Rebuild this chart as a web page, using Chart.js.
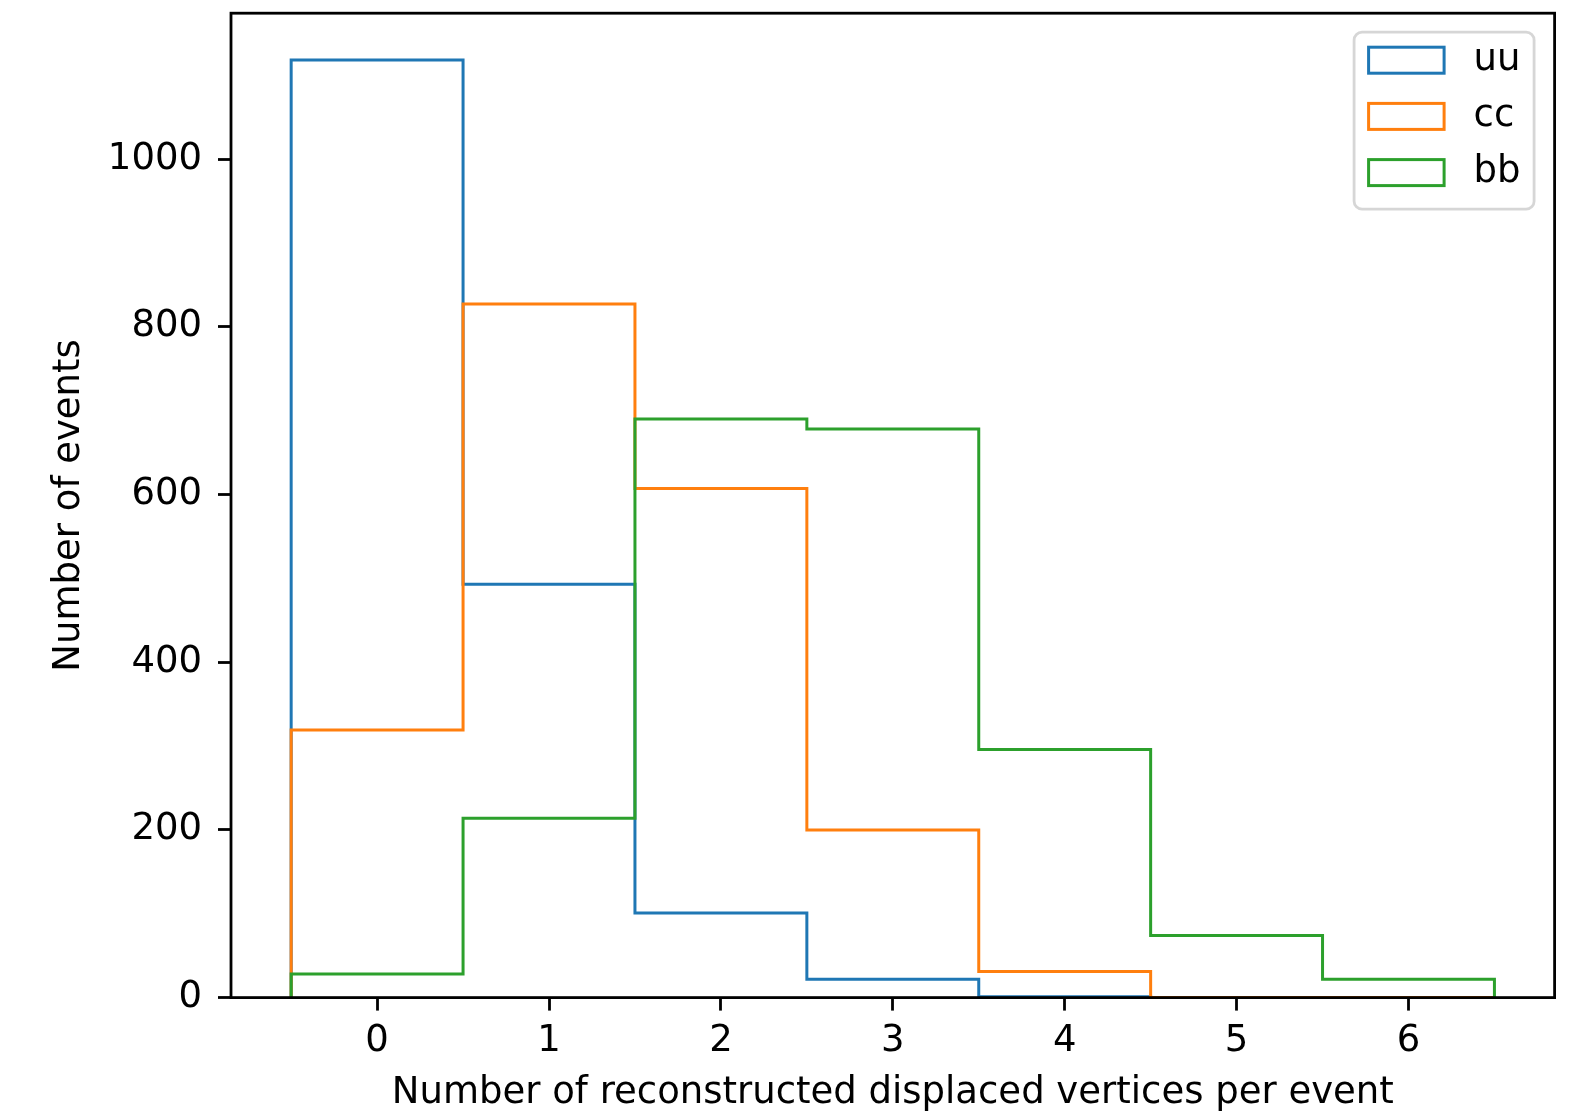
<!DOCTYPE html>
<html>
<head>
<meta charset="utf-8">
<script src="https://cdn.jsdelivr.net/npm/chart.js@4.4.1/dist/chart.umd.min.js"></script>
<style>
  html, body { margin: 0; padding: 0; background: #fff; }
  #wrap { width: 1588px; height: 1116px; }
</style>
</head>
<body>
<div id="wrap"><canvas id="hist"></canvas></div>
<script>
// bin centres (number of displaced vertices) and counts per sample
const binCenters = [0, 1, 2, 3, 4, 5, 6];
const uuCounts = [1118, 493, 101, 22, 1, 0, 0];
const ccCounts = [319, 827, 607, 200, 31, 0, 0];
const bbCounts = [28, 214, 690, 678, 296, 74, 22];
const sampleNames = ['uu', 'cc', 'bb'];
const sampleColors = ['#1f77b4', '#ff7f0e', '#2ca02c'];
const xTicks = [0, 1, 2, 3, 4, 5, 6];
const yTicks = [0, 200, 400, 600, 800, 1000];

const FONT = 'DejaVu Sans';
const FS = 37;
const LW = 2.8;

// outline of a step histogram, like matplotlib histtype='step'
function stepOutline(counts) {
    const pts = [];
    const lo = binCenters[0] - 0.5;
    pts.push({ x: lo, y: 0 });
    counts.forEach((c, i) => {
        pts.push({ x: binCenters[i] - 0.5, y: c });
        pts.push({ x: binCenters[i] + 0.5, y: c });
    });
    pts.push({ x: binCenters[binCenters.length - 1] + 0.5, y: 0 });
    return pts;
}

const allCounts = [uuCounts, ccCounts, bbCounts];
const yMax = Math.max(...allCounts.flat()) * 1.05;
const span = binCenters[binCenters.length - 1] - binCenters[0] + 1;
const xMin = binCenters[0] - 0.5 - span * 0.05;
const xMax = binCenters[binCenters.length - 1] + 0.5 + span * 0.05;

const framePlugin = {
    id: 'frame',
    afterDatasetsDraw(chart) {
        const { ctx, chartArea: a } = chart;
        ctx.save();
        ctx.strokeStyle = '#000';
        ctx.lineWidth = LW;
        ctx.strokeRect(a.left, a.top, a.right - a.left, a.bottom - a.top);
        ctx.restore();
    }
};

const legendPlugin = {
    id: 'mplLegend',
    afterDraw(chart) {
        const { ctx, chartArea: a } = chart;
        const w = 180, h = 177;
        const x0 = a.right - 20.5 - w;
        const y0 = a.top + 19;
        ctx.save();
        ctx.beginPath();
        ctx.roundRect(x0, y0, w, h, 8);
        ctx.fillStyle = 'rgba(255,255,255,0.8)';
        ctx.fill();
        ctx.strokeStyle = 'rgba(204,204,204,0.8)';
        ctx.lineWidth = LW;
        ctx.stroke();
        chart.data.datasets.forEach((ds, i) => {
            const cy = y0 + 28 + i * 56.2;
            ctx.strokeStyle = ds.borderColor;
            ctx.lineWidth = 3;
            ctx.strokeRect(x0 + 14.5, cy - 13, 75.5, 26);
            ctx.fillStyle = '#000';
            ctx.font = FS + 'px "' + FONT + '"';
            ctx.textBaseline = 'middle';
            ctx.textAlign = 'left';
            ctx.fillText(ds.label, x0 + 119.5, cy);
        });
        ctx.restore();
    }
};

new Chart(document.getElementById('hist'), {
    type: 'line',
    data: {
        datasets: allCounts.map((counts, i) => ({
            label: sampleNames[i],
            data: stepOutline(counts),
            borderColor: sampleColors[i],
            backgroundColor: 'transparent',
            borderWidth: 3,
            borderJoinStyle: 'miter',
            pointRadius: 0,
            tension: 0,
            fill: false,
            order: allCounts.length - i
        }))
    },
    options: {
        responsive: true,
        maintainAspectRatio: false,
        animation: false,
        layout: { padding: { top: 13.2, right: 33.4, left: 0, bottom: 0 } },
        plugins: {
            legend: { display: false },
            tooltip: { enabled: false }
        },
        scales: {
            x: {
                type: 'linear',
                min: xMin,
                max: xMax,
                afterBuildTicks: (s) => { s.ticks = xTicks.map(v => ({ value: v })); },
                afterFit: (s) => { s.height = 118.4; s.paddingLeft = 0; s.paddingRight = 0; },
                border: { display: false },
                grid: {
                    drawOnChartArea: false,
                    drawTicks: true,
                    tickLength: 13,
                    tickWidth: LW,
                    tickColor: '#000'
                },
                ticks: {
                    color: '#000',
                    padding: 9,
                    maxRotation: 0,
                    callback: (v) => String(v),
                    font: { family: FONT, size: FS }
                },
                title: {
                    display: true,
                    text: 'Number of reconstructed displaced vertices per event',
                    color: '#000',
                    padding: { top: 0, bottom: 0 },
                    font: { family: FONT, size: FS }
                }
            },
            y: {
                type: 'linear',
                min: 0,
                max: yMax,
                afterBuildTicks: (s) => { s.ticks = yTicks.map(v => ({ value: v })); },
                afterFit: (s) => { s.width = 231; s.paddingTop = 0; s.paddingBottom = 0; },
                border: { display: false },
                grid: {
                    drawOnChartArea: false,
                    drawTicks: true,
                    tickLength: 13,
                    tickWidth: LW,
                    tickColor: '#000'
                },
                ticks: {
                    color: '#000',
                    padding: 16,
                    callback: (v) => String(v),
                    font: { family: FONT, size: FS }
                },
                title: {
                    display: true,
                    text: 'Number of events',
                    color: '#000',
                    padding: { top: 47, bottom: 0 },
                    font: { family: FONT, size: FS }
                }
            }
        }
    },
    plugins: [framePlugin, legendPlugin]
});
</script>
</body>
</html>
